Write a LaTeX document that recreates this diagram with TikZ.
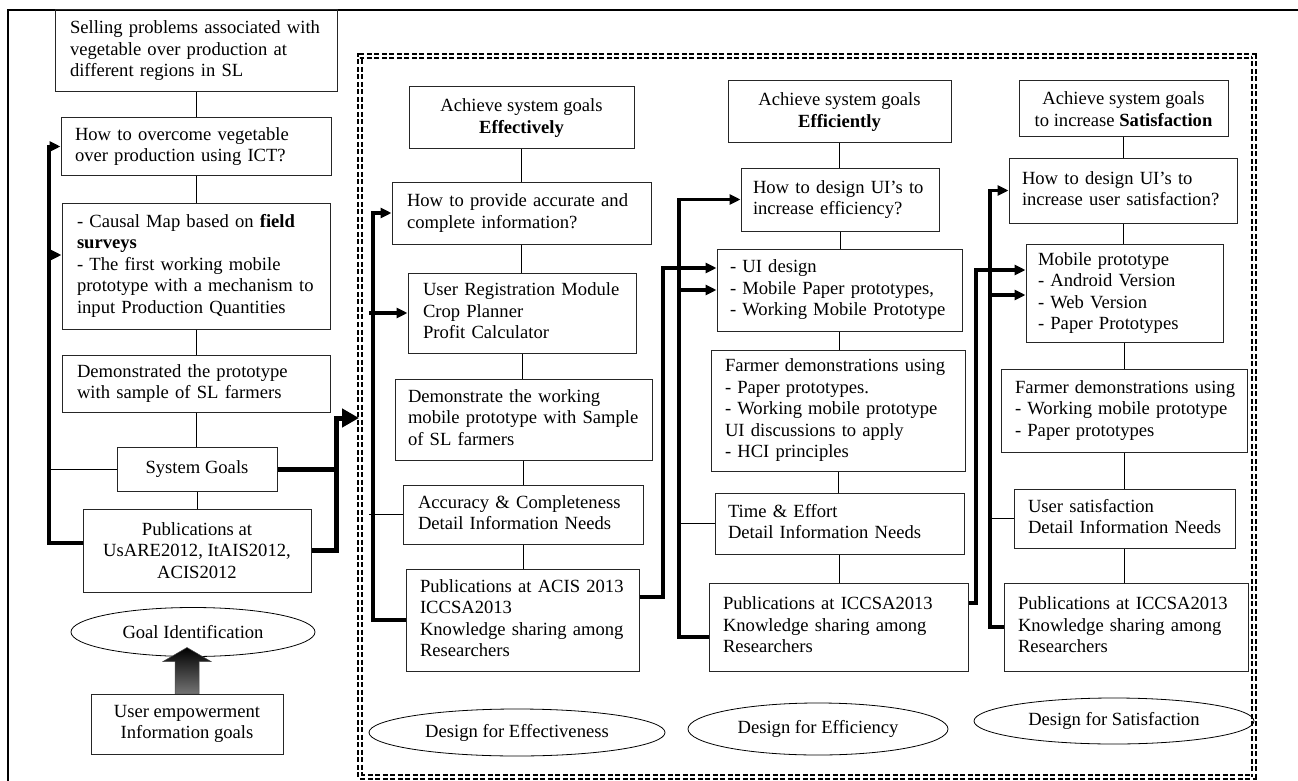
\documentclass[tikz,border=0pt]{standalone}
\usepackage{fontspec}
\setmainfont{Liberation Serif}
\usetikzlibrary{arrows.meta,shapes.geometric,calc}
\newcommand\lns[1]{\begin{tabular}{@{}l@{}}#1\end{tabular}}
\begin{document}
\begin{tikzpicture}[x=1pt,y=-1pt,
  txt/.style={font=\fontsize{18.6}{21.5}\selectfont},
  bx/.style={txt, draw=black!85, line width=1pt, inner ysep=0pt, align=left},
  cbx/.style={txt, draw=black!85, line width=1pt, inner sep=0pt, align=center},
  ell/.style={txt, draw, ellipse, line width=0.8pt, inner sep=0pt},
  link/.style={line width=1pt},
  thk/.style={line width=3.5pt},
  thkk/.style={line width=5pt},
  arr/.style={-{Triangle[length=11pt,width=10pt]}},
  bigarr/.style={-{Triangle[length=17pt,width=18pt]}},
  dframe/.style={draw, line width=1.9pt, double, double distance=1.3pt, dash pattern=on 5pt off 2.5pt, inner sep=0pt}
]
\useasboundingbox (0,0) rectangle (1298,781);

% outer frame
\draw[line width=1.8pt] (8,781) -- (8,10) -- (1298,10);

% dashed double frame
\node[dframe, minimum width=894pt, minimum height=721pt] (frame) at (807,416.5) {};

% ---------------- left column ----------------
\node[bx, minimum width=282pt, minimum height=82pt, inner xsep=15pt, text width=252pt] (A1) at (196,51)
  {\lns{Selling problems associated with\\vegetable over production at\\different regions in SL}};
\node[bx, minimum width=270pt, minimum height=57pt, inner xsep=14pt, text width=242pt] (A2) at (196,146.5)
  {\lns{How to overcome vegetable\\over production using ICT?}};
\node[bx, minimum width=268pt, minimum height=126pt, inner xsep=15pt, text width=238pt] (A3) at (196,266)
  {\lns{- Causal Map based on \textbf{field}\\\textbf{surveys}\\- The first working mobile\\prototype with a mechanism to\\input Production Quantities}};
\node[bx, minimum width=268pt, minimum height=57pt, inner xsep=15pt, text width=238pt] (A4) at (196,383.5)
  {\lns{Demonstrated the prototype\\with sample of SL farmers}};
\node[cbx, minimum width=160pt, minimum height=44pt] (A5) at (197,469) {System Goals};
\node[cbx, minimum width=228pt, minimum height=83pt] (A6) at (197,550.5)
  {Publications at\\UsARE2012, ItAIS2012,\\ACIS2012};
\node[ell, minimum width=244pt, minimum height=49pt] (GI) at (193,632) {Goal Identification};
\node[cbx, minimum width=192pt, minimum height=60pt] (UE) at (187,724)
  {User empowerment\\Information goals};

% ---------------- column 1 ----------------
\node[cbx, minimum width=225pt, minimum height=62pt] (B1) at (521.5,118)
  {Achieve system goals\\\textbf{Effectively}};
\node[bx, minimum width=259pt, minimum height=62pt, inner xsep=15pt, text width=229pt] (B2) at (521.5,213)
  {\lns{\makebox[229pt][s]{How to provide accurate and}\\complete information?}};
\node[bx, minimum width=228pt, minimum height=80pt, inner xsep=15pt, text width=198pt] (B3) at (522,313)
  {\lns{User Registration Module\\Crop Planner\\Profit Calculator}};
\node[bx, minimum width=257pt, minimum height=81pt, inner xsep=13pt, text width=231pt] (B4) at (523.5,419.5)
  {\lns{Demonstrate the working\\mobile prototype with Sample\\of SL farmers}};
\node[bx, minimum width=240pt, minimum height=59pt, inner xsep=15pt, text width=210pt] (B5) at (523,514.5)
  {\lns{Accuracy \& Completeness\\Detail Information Needs}};
\node[bx, minimum width=233pt, minimum height=102pt, inner xsep=14pt, text width=205pt] (B6) at (522.5,620)
  {\lns{Publications at ACIS 2013\\ICCSA2013\\Knowledge sharing among\\Researchers}};
\node[ell, minimum width=296pt, minimum height=47pt] (E1) at (517,732.5) {Design for Effectiveness};

% ---------------- column 2 ----------------
\node[cbx, minimum width=223pt, minimum height=62pt] (C1) at (839.5,112)
  {Achieve system goals\\\textbf{Efficiently}};
\node[bx, minimum width=198pt, minimum height=63pt, inner xsep=12pt, text width=174pt] (C2) at (840,199.5)
  {\lns{How to design UI’s to\\increase efficiency?}};
\node[bx, minimum width=245pt, minimum height=82pt, inner xsep=13pt, text width=219pt] (C3) at (839.5,290)
  {\lns{- UI design\\- Mobile Paper prototypes,\\- Working Mobile Prototype}};
\node[bx, minimum width=254pt, minimum height=121pt, inner xsep=14pt, text width=226pt] (C4) at (838,410.5)
  {\lns{Farmer demonstrations using\\- Paper prototypes.\\- Working mobile prototype\\UI discussions to apply\\- HCI principles}};
\node[bx, minimum width=249pt, minimum height=61pt, inner xsep=13pt, text width=223pt] (C5) at (839.5,523.5)
  {\lns{Time \& Effort\\Detail Information Needs}};
\node[bx, minimum width=259pt, minimum height=88pt, inner xsep=14pt, text width=231pt] (C6) at (838.5,627)
  {\lns{Publications at ICCSA2013\\Knowledge sharing among\\Researchers}};
\node[ell, minimum width=260pt, minimum height=52pt] (E2) at (818,729) {Design for Efficiency};

% ---------------- column 3 ----------------
\node[cbx, minimum width=209pt, minimum height=56pt] (D1) at (1123.5,109)
  {Achieve system goals\\to increase \textbf{Satisfaction}};
\node[bx, minimum width=228pt, minimum height=65pt, inner xsep=13pt, text width=202pt] (D2) at (1123,190.5)
  {\lns{How to design UI’s to\\increase user satisfaction?}};
\node[bx, minimum width=197pt, minimum height=98pt, inner xsep=12pt, text width=173pt] (D3) at (1124.5,293)
  {\lns{Mobile prototype\\- Android Version\\- Web Version\\- Paper Prototypes}};
\node[bx, minimum width=246pt, minimum height=83pt, inner xsep=14pt, text width=218pt] (D4) at (1124,410.5)
  {\lns{Farmer demonstrations using\\- Working mobile prototype\\- Paper prototypes}};
\node[bx, minimum width=221pt, minimum height=59pt, inner xsep=14pt, text width=193pt] (D5) at (1124.5,518.5)
  {\lns{User satisfaction\\Detail Information Needs}};
\node[bx, minimum width=244pt, minimum height=88pt, inner xsep=14pt, text width=216pt] (D6) at (1126,627)
  {\lns{Publications at ICCSA2013\\Knowledge sharing among\\Researchers}};
\node[ell, minimum width=280pt, minimum height=46pt] (E3) at (1114,721) {Design for Satisfaction};

% ---------------- thin vertical links ----------------
\foreach \a/\b in {A1/A2,A2/A3,A3/A4,A4/A5,A5/A6,
                   B1/B2,B2/B3,B3/B4,B4/B5,B5/B6,
                   C1/C2,C2/C3,C3/C4,C4/C5,C5/C6,
                   D1/D2,D2/D3,D3/D4,D4/D5,D5/D6}
  \draw[link] (\a.south) -- (\a.south |- \b.north);

% block arrow from UE to GI
\path[top color=black, bottom color=black!55, draw=black!70, line width=0.5pt]
  ($(UE.north)+(-12,0)$) -- ($(UE.north)+(-12,-32)$) -- ($(UE.north)+(-24,-32)$)
  -- ($(UE.north)+(0,-46)$) -- ($(UE.north)+(24,-32)$) -- ($(UE.north)+(12,-32)$)
  -- ($(UE.north)+(12,0)$) -- cycle;

% ---------------- left loop ----------------
\coordinate (lx) at (49,0);
\coordinate (a6w) at ([yshift=7.5pt]A6.west);
\coordinate (a3in) at ([yshift=11pt]A3.west);
\draw[thk,arr] (a6w) -| (lx |- A2.west) -- (A2.west);
\draw[thk,arr] (lx |- a3in) -- (a3in);
\draw[link] (A5.west) -- (lx |- A5.west);

% left -> frame
\coordinate (rx) at (336,418);
\draw[thkk,bigarr] (A5.east) -| (rx) -- (frame.west |- rx);
\draw[thkk] (A6.east) -| (rx |- A5.east);

% ---------------- column 1 loop ----------------
\coordinate (c1x) at (373,0);
\coordinate (c1s) at (369,0);
\draw[thk,arr] (B6.west) -| (c1x |- B2.west) -- (B2.west);
\draw[thk,arr] (c1s |- B3.west) -- (B3.west);
\draw[link] (B5.west) -- (c1s |- B5.west);

% column 1 -> column 2
\coordinate (b6o) at ([yshift=23pt]B6.east);
\coordinate (c3a) at ([yshift=22pt]C3.west);
\coordinate (m12) at (663,0);
\draw[thk,arr] (b6o) -| (m12 |- c3a) -- (c3a);

% ---------------- column 2 loop ----------------
\coordinate (c2x) at (679,0);
\coordinate (c6i) at ([yshift=-10pt]C6.west);
\draw[thk,arr] (c6i) -| (c2x |- C2.west) -- (C2.west);
\draw[thk,arr] (c2x |- C3.west) -- (C3.west);
\draw[link] (C5.west) -- (c2x |- C5.west);

% column 2 -> column 3
\coordinate (c6o) at ([yshift=24pt]C6.east);
\coordinate (d3a) at ([yshift=23pt]D3.west);
\coordinate (m23) at (976,0);
\draw[thk,arr] (c6o) -| (m23 |- d3a) -- (d3a);

% ---------------- column 3 loop ----------------
\coordinate (d3x) at (990,0);
\coordinate (d3b) at ([yshift=-2pt]D3.west);
\draw[thk,arr] (D6.west) -| (d3x |- D2.west) -- (D2.west);
\draw[thk,arr] (d3x |- d3b) -- (d3b);
\draw[link] (D5.west) -- (d3x |- D5.west);
\end{tikzpicture}
\end{document}
